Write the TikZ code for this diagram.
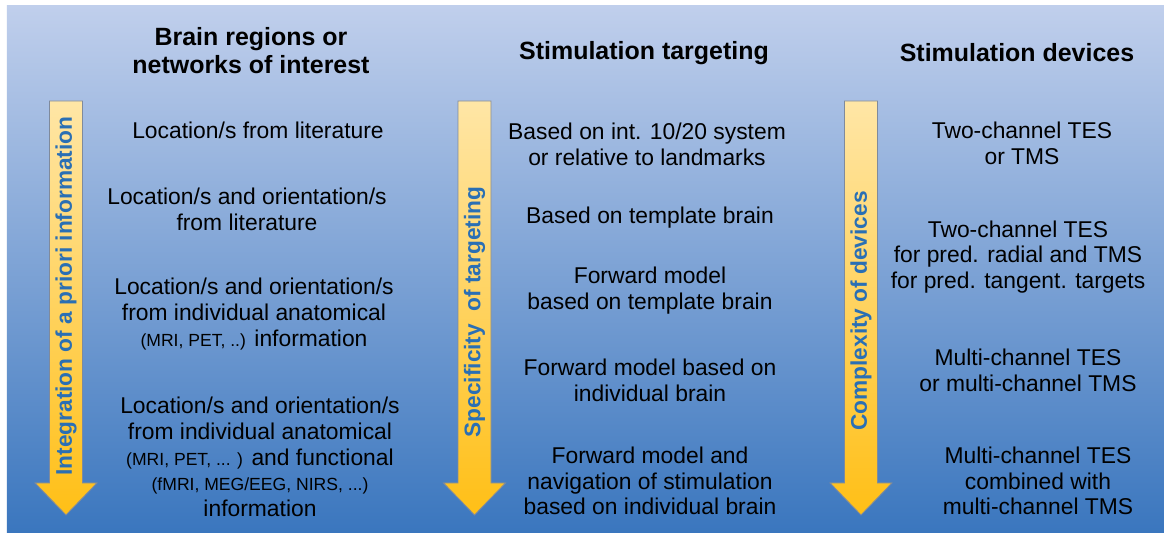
\documentclass[tikz,border=0pt]{standalone}
\usepackage{fontspec}
\setmainfont{Liberation Sans}
\usepackage{xcolor}
\usetikzlibrary{positioning}
\definecolor{bgtop}{HTML}{C0CFEC}
\definecolor{bgbot}{HTML}{3A76BE}
\definecolor{bartop}{HTML}{FFE6A6}
\definecolor{barbot}{HTML}{FFBF16}
\definecolor{barline}{HTML}{7F8A9C}
\definecolor{axisblue}{HTML}{2A6FB4}

\newcommand{\smallnote}[1]{{\fontsize{10}{14.7}\selectfont #1}}

\begin{document}
\begin{tikzpicture}[
  font=\fontsize{13}{14.7}\selectfont,
  head/.style={font=\bfseries\fontsize{14.2}{15.9}\selectfont, align=center},
  item/.style={align=center, inner sep=1pt},
  axislabel/.style={rotate=90, font=\bfseries\fontsize{12.9}{14}\selectfont, text=axisblue},
  bar/.style={draw=barline, line width=0.5pt, top color=bartop, bottom color=barbot},
]

% ============================================================
% BACKGROUND
% ============================================================
\fill[white] (0,0) rectangle (23.28,10.66);
\shade[top color=bgtop, bottom color=bgbot] (0.14,0) rectangle (23.28,10.54);
\useasboundingbox (0,0) rectangle (23.28,10.66);

% --- three downward bars ---
\foreach \x in {1.32, 9.49, 17.22} {
  \draw[bar] (\x-0.33,8.64) -- (\x+0.33,8.64) -- (\x+0.33,1.00) -- (\x+0.62,1.00)
    -- (\x,0.36) -- (\x-0.62,1.00) -- (\x-0.33,1.00) -- cycle;
}

\node[axislabel] (axbrain) at (1.32, 4.74) {Integration of a priori information};
\node[axislabel] (axtgt) at (9.49, 4.42) {Specificity~~of targeting};
\node[axislabel] (axdev) at (17.22, 4.44) {Complexity of devices};

% ============================================================
% LEFT COLUMN: regions of interest
% ============================================================
\node[head] (hdbrain) at (5.02, 9.64) {Brain regions or\\networks of interest};

\node[item] (brain1) at (5.16, 8.06) {Location/s from literature};
\node[item] (brain2) at (4.94, 6.48) {Location/s and orientation/s\\from literature};
\node[item] (brain3) at (5.08, 4.38) {Location/s and orientation/s\\from individual anatomical\\
  \smallnote{(MRI, PET, ..)} information};
\node[item] (brain4) at (5.20, 1.52) {Location/s and orientation/s\\from individual anatomical\\
  \smallnote{(MRI, PET, ... )} and functional\\\smallnote{(fMRI, MEG/EEG, NIRS, ...)}\\information};

% ============================================================
% MIDDLE COLUMN: targeting
% ============================================================
\node[head] (hdtgt) at (12.88, 9.60) {Stimulation targeting};

\node[item] (tgt1) at (12.94, 7.78) {Based on int. 10/20 system\\or relative to landmarks};
\node[item] (tgt2) at (13.00, 6.30) {Based on template brain};
\node[item] (tgt3) at (13.00, 4.84) {Forward model\\based on template brain};
\node[item] (tgt4) at (13.00, 3.06) {Forward model based on\\individual brain};
\node[item] (tgt5) at (13.00, 1.04) {Forward model and\\navigation of stimulation\\based on individual brain};

% ============================================================
% RIGHT COLUMN: devices
% ============================================================
\node[head] (hddev) at (20.34, 9.60) {Stimulation devices};

\node[item] (dev1) at (20.44, 7.80) {Two-channel TES\\or TMS};
\node[item] (dev2) at (20.36, 5.52) {Two-channel TES\\for pred. radial and TMS\\for pred. tangent. targets};
\node[item] (dev3) at (20.56, 3.26) {Multi-channel TES\\or multi-channel TMS};
\node[item] (dev4) at (20.76, 1.04) {Multi-channel TES\\combined with\\multi-channel TMS};

\end{tikzpicture}
\end{document}
